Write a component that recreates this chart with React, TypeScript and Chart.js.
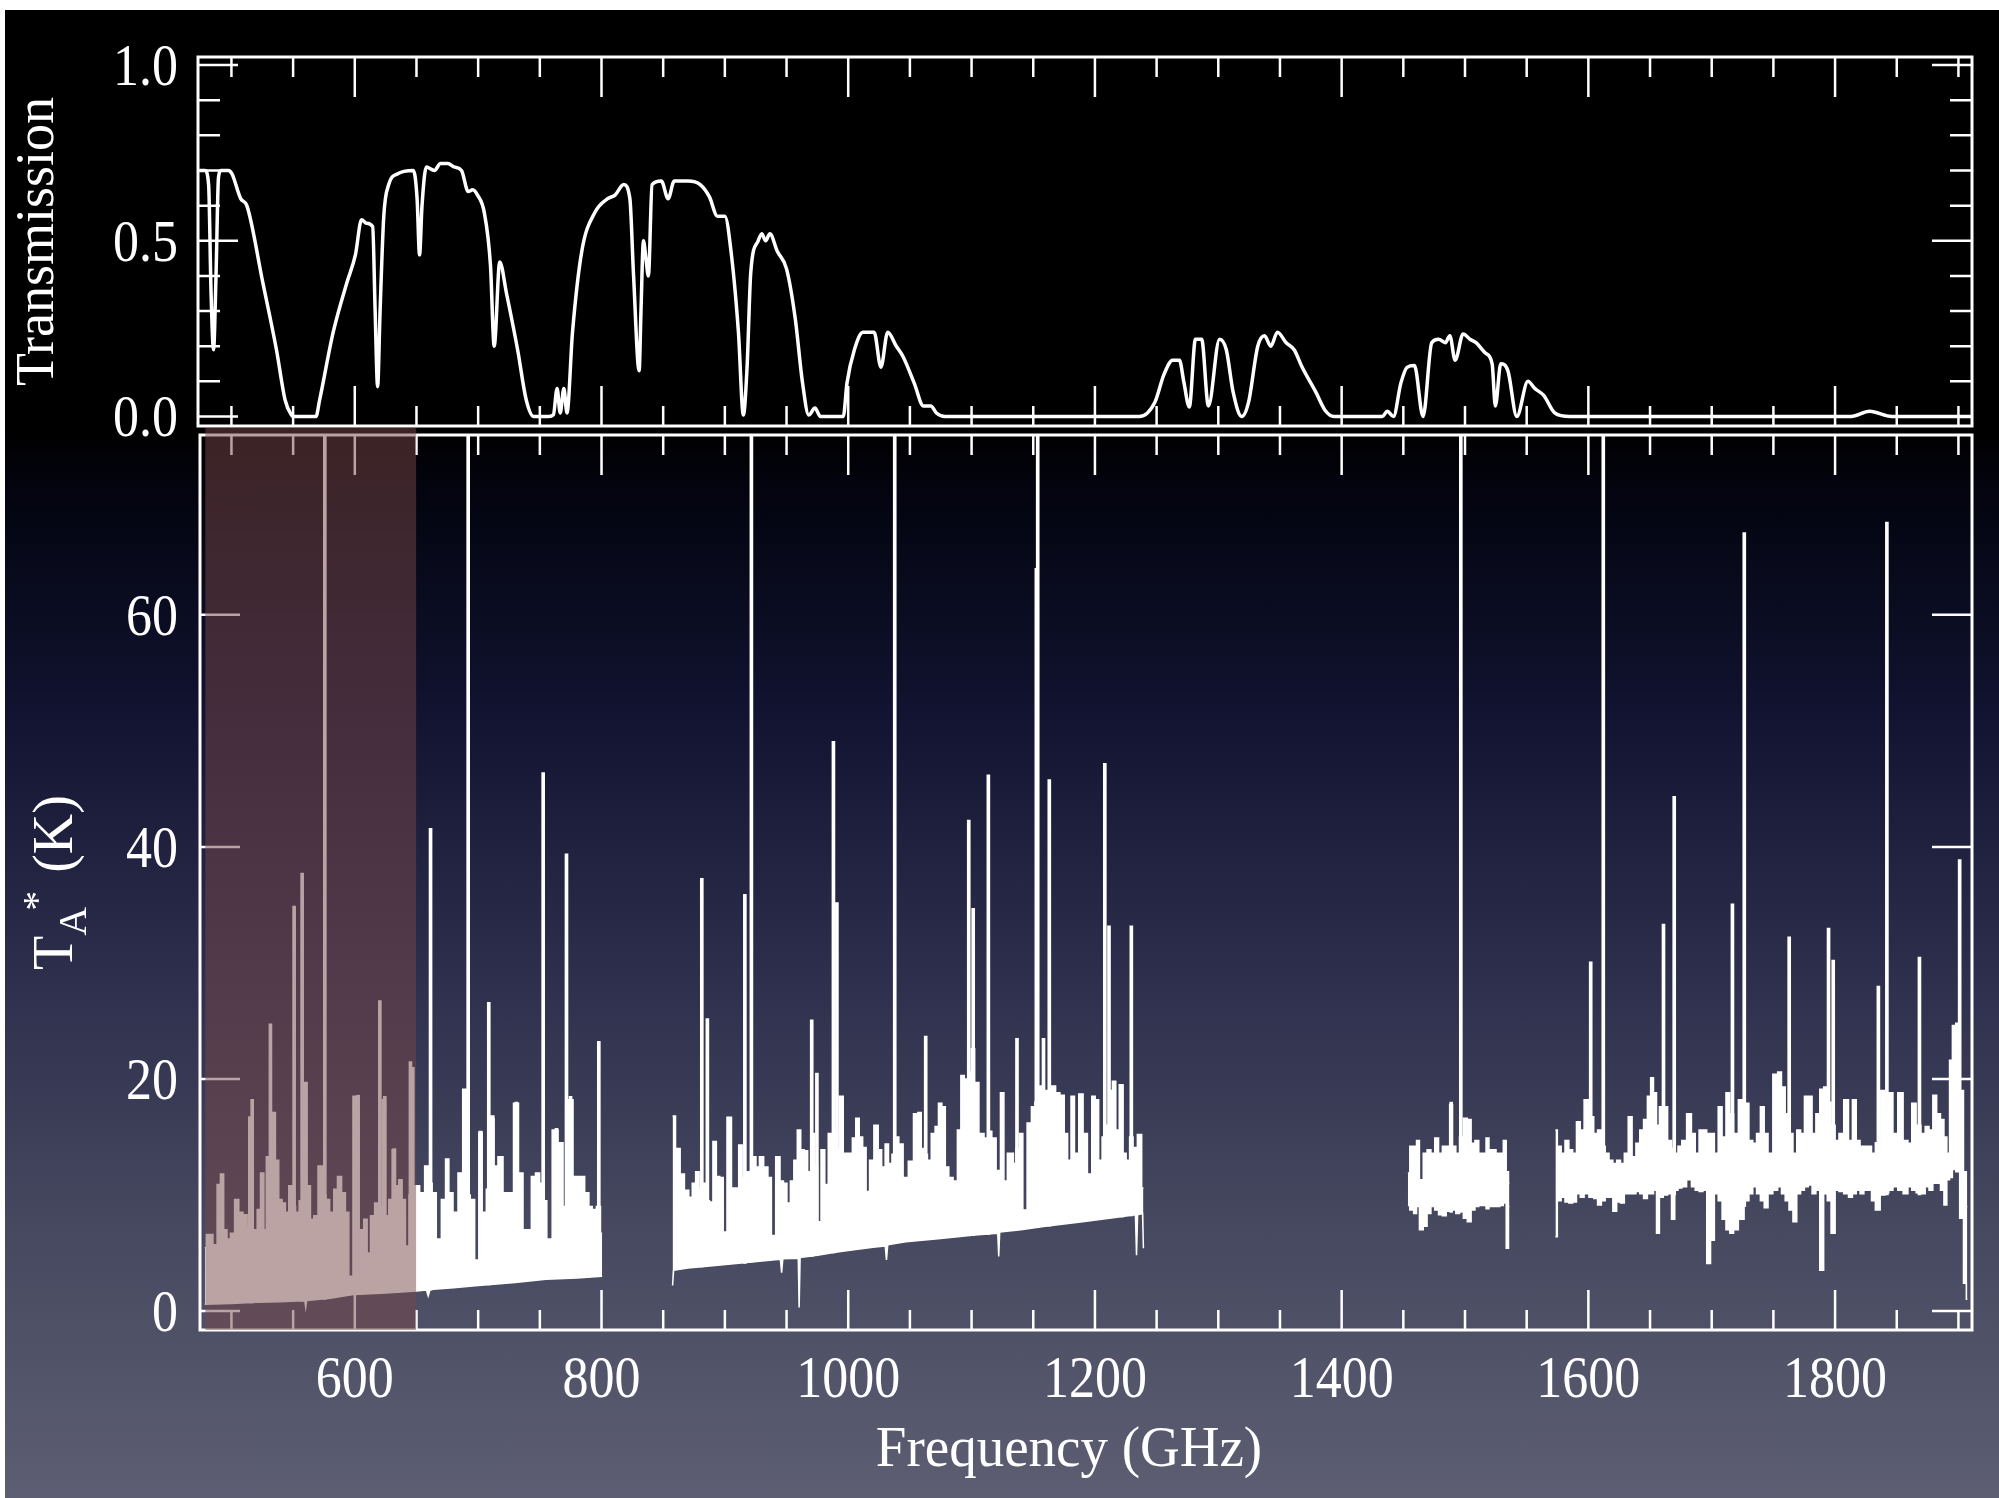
import React, { useEffect, useRef } from "react";
import { Chart, registerables } from "chart.js";

Chart.register(...registerables);

const SERIF = '"Liberation Serif", "Times New Roman", serif';

// ---------------- axes / ticks ----------------
const xMajorTicks = [600, 800, 1000, 1200, 1400, 1600, 1800];
const xMinorTicks = [500, 550, 600, 650, 700, 750, 800, 850, 900, 950, 1000, 1050, 1100, 1150, 1200, 1250, 1300, 1350, 1400, 1450, 1500, 1550, 1600, 1650, 1700, 1750, 1800, 1850, 1900];
const transMajorTicks = [0, 0.5, 1.0];
const transMinorTicks = [0.1, 0.2, 0.3, 0.4, 0.6, 0.7, 0.8, 0.9];
const tempTicks = [0, 20, 40, 60];
const shadedBand = [478.8, 649.7];

// ---------------- atmospheric transmission [GHz, transmission] ----------------
const transmission = [
  [474, 0.70], [478.5, 0.70], [481.5, 0.66], [483.5, 0.35], [485.5, 0.19], [487.5, 0.40], [489.5, 0.68], [491.5, 0.70],
  [497.5, 0.70], [500.5, 0.69], [507.5, 0.62], [512.5, 0.60], [525.5, 0.38], [536.5, 0.19], [543.5, 0.047], [548.5, 0.005],
  [550.5, 0.0], [568.5, 0.0], [571.5, 0.047], [582.5, 0.24], [593.5, 0.38], [600.5, 0.46], [605.5, 0.56], [609.5, 0.55],
  [614.5, 0.54], [616.5, 0.30], [618.5, 0.085], [620.5, 0.30], [623.5, 0.57], [627.5, 0.66], [634.5, 0.69], [647.5, 0.70],
  [650.5, 0.62], [652.5, 0.46], [654.5, 0.60], [658, 0.71], [664.5, 0.70], [669.5, 0.72], [675.5, 0.72], [680.5, 0.71],
  [686.5, 0.70], [692, 0.64], [695.5, 0.645], [699.5, 0.63], [705, 0.58], [710, 0.43], [713, 0.20], [717.5, 0.44],
  [723, 0.35], [732, 0.19], [739, 0.047], [745, 0.0], [757, 0.0], [761, 0.005], [764, 0.08], [766.5, 0.01],
  [769.5, 0.08], [772, 0.01], [776.5, 0.24], [784, 0.47], [794.5, 0.58], [805, 0.62], [811, 0.63], [818, 0.66],
  [823, 0.62], [826, 0.40], [830.5, 0.13], [832, 0.30], [834, 0.50], [836, 0.45], [838, 0.40], [841, 0.66],
  [848.5, 0.67], [854, 0.62], [859, 0.67], [870, 0.67], [880, 0.66], [887.5, 0.625], [894, 0.57], [900, 0.57],
  [905, 0.47], [911, 0.24], [915, 0.004], [918, 0.14], [921, 0.41], [927, 0.50], [930, 0.52], [933, 0.50],
  [936.5, 0.52], [942.5, 0.47], [950, 0.42], [957, 0.28], [963, 0.095], [968, 0.004], [973, 0.024], [977.5, 0.0],
  [996, 0.0], [999, 0.095], [1005, 0.19], [1012, 0.24], [1021, 0.24], [1026.5, 0.14], [1032, 0.24], [1039, 0.20],
  [1044.5, 0.17], [1053.5, 0.095], [1061, 0.03], [1067, 0.03], [1071.5, 0.01], [1078.5, 0.0], [1236, 0.0], [1248.5, 0.04],
  [1256, 0.12], [1263, 0.16], [1268.5, 0.16], [1272, 0.10], [1276.5, 0.027], [1281.5, 0.22], [1286.5, 0.22], [1292, 0.03],
  [1301, 0.22], [1306.5, 0.19], [1312, 0.07], [1319, 0.0], [1324.5, 0.04], [1332, 0.20], [1337.5, 0.23], [1342.5, 0.20],
  [1348, 0.24], [1355, 0.21], [1361.5, 0.19], [1368, 0.14], [1379, 0.07], [1386.5, 0.018], [1394, 0.0], [1433, 0.0],
  [1437, 0.015], [1442, 0.0], [1448, 0.095], [1453, 0.14], [1459, 0.145], [1466, 0.0], [1473, 0.21], [1478.6, 0.22],
  [1484, 0.21], [1487.7, 0.23], [1492, 0.16], [1498.5, 0.235], [1504, 0.22], [1509, 0.21], [1516.7, 0.18], [1522, 0.15],
  [1524.6, 0.03], [1529, 0.15], [1534.8, 0.13], [1542, 0.0], [1551, 0.10], [1556.5, 0.08], [1563.8, 0.06], [1572.8, 0.01],
  [1585, 0.0], [1813, 0.0], [1828, 0.015], [1846, 0.0], [1911, 0.0],
];

// ---------------- spectrum bands [GHz, T_A* (K)] ----------------
const band1Upper = [
  [478.4, 5.45], [481, 6.6], [483, 6.6], [487, 5.7], [489.7, 10.9], [492.4, 11.8], [495, 7.0], [497.8, 6.2], [500.5, 6.7],
  [504.6, 9.6], [507.3, 8.5], [511.4, 8.3], [514, 7.3], [519.5, 7.0], [522.2, 8.75], [524.9, 11.9], [527.6, 7.0], [528.9, 13.3],
  [531.6, 9.0], [534.3, 17.1], [537, 13.0], [539.7, 9.6], [542.4, 9.3], [545.1, 8.5], [547.8, 10.8], [550.8, 9.0], [553.2, 8.5],
  [556.5, 9.5], [560, 19.7], [562.7, 10.8], [565.4, 7.9], [568.1, 8.2], [572.2, 12.5], [575.7, 10.0], [577.6, 9.6], [581.6, 8.5],
  [584.3, 10.5], [587.6, 11.6], [591, 10.2], [593.8, 8.5], [596.5, 3.0], [600.5, 18.5], [603.2, 6.7], [605.9, 7.0], [608.6, 7.9],
  [611.4, 5.0], [614, 8.2], [618.1, 9.3], [620.8, 9.0], [623.5, 18.2], [626.2, 8.2], [628.9, 9.6], [631.6, 13.9], [634.3, 10.8],
  [637, 11.3], [639.7, 9.6], [642.4, 5.6], [645.5, 10.0], [650.5, 10.8], [654.6, 10.2], [658.6, 12.5], [661.4, 11.0], [664, 10.2],
  [668.1, 6.2], [672.2, 9.6], [674.9, 13.1], [677.6, 10.2], [681.6, 8.5], [685.7, 11.9], [689.2, 19.1], [692, 10.0], [695.1, 9.6],
  [699.2, 4.4], [701.9, 15.4], [704.6, 8.5], [708.6, 10.5], [711.4, 16.8], [714, 12.5], [718.1, 13.3], [722.2, 10.2], [726.2, 10.2],
  [731.1, 17.9], [734.3, 11.9], [738.4, 7.0], [741.1, 7.0], [745.1, 11.6], [747.8, 11.9], [751.9, 11.0], [754, 9.5], [757.3, 6.2],
  [762.7, 15.6], [766.8, 14.5], [770.8, 9.0], [774.9, 18.2], [778.9, 11.6], [784.3, 11.6], [788.4, 10.2], [791.1, 9.0], [793.8, 8.75],
  [797.8, 9.0], [800.5, 6.7],
];
const band1Lower = [
  [478.4, 0.57], [500, 0.65], [520, 0.75], [540, 0.8], [552, 0.86], [559.5, 0.85], [560.2, 0.3], [561, 0.9], [580, 1.1],
  [600, 1.43], [625, 1.55], [650, 1.72], [658, 1.8], [659.5, 1.3], [661, 1.85], [680, 2.0], [700, 2.2], [730, 2.45],
  [755, 2.73], [780, 2.85], [800.5, 3.0],
];
const band2Upper = [
  [857.6, 16.8], [862.4, 14.0], [865.1, 11.8], [869.3, 10.4], [872.2, 9.8], [874.9, 11.0], [877.7, 12.0], [880.5, 10.5], [883.3, 11.0],
  [886.1, 9.5], [888.9, 9.4], [891.7, 14.6], [894.5, 11.6], [897.3, 11.5], [900, 6.8], [903.4, 16.7], [907.3, 10.6], [909.8, 10.6],
  [912.6, 14.3], [915.4, 11.5], [919.6, 12.0], [923.8, 13.3], [926.6, 12.4], [929.4, 13.3], [933.5, 12.4], [936.3, 11.5], [939.1, 6.5],
  [943.3, 13.3], [946.1, 11.2], [948.9, 11.0], [951.7, 9.3], [954.5, 11.2], [957.3, 13.0], [960.1, 15.6], [962.9, 13.9], [965.7, 13.8],
  [968.5, 12.0], [971.2, 15.3], [974, 12.5], [976.3, 7.7], [979.6, 13.9], [982.4, 10.9], [985.2, 15.3], [988, 15.3], [991, 14.0],
  [994.1, 18.5], [997.8, 13.6], [1002, 13.6], [1004.7, 14.9], [1007.5, 16.6], [1010.3, 15.0], [1013.1, 14.1], [1015.9, 10.3], [1018.7, 13.0],
  [1022.9, 16.0], [1025.7, 13.9], [1028.5, 12.4], [1031.3, 14.4], [1034, 12.7], [1036.9, 13.5], [1039.6, 15.0], [1042.4, 14.4], [1046.6, 11.5],
  [1050.8, 12.9], [1055, 17.0], [1057.8, 17.1], [1060.6, 14.0], [1062.8, 13.5], [1065.6, 13.0], [1069, 15.3], [1071.8, 15.9], [1074.5, 17.9],
  [1077.3, 17.6], [1080.1, 12.4], [1082.9, 11.5], [1087.1, 11.2], [1089.9, 15.6], [1092.7, 20.3], [1095.5, 20.0], [1098.3, 20.6], [1101.1, 22.6],
  [1103.9, 19.7], [1108, 15.3], [1112.2, 14.9], [1115, 15.5], [1117.8, 14.9], [1122, 12.1], [1124.8, 18.8], [1127.6, 11.2], [1130.4, 13.6],
  [1133.2, 13.6], [1134.6, 12.7], [1137.4, 14.0], [1140.2, 15.3], [1142.9, 8.7], [1147.1, 16.2], [1149.9, 17.6], [1152.7, 18.0], [1155.5, 19.4],
  [1158.3, 18.5], [1161.1, 19.0], [1163.3, 18.0], [1166.7, 19.4], [1169.5, 18.8], [1173.7, 18.6], [1176.5, 15.3], [1179.2, 13.0], [1182, 18.5],
  [1184.8, 13.6], [1189, 18.7], [1191.8, 15.3], [1196, 11.8], [1198.8, 18.5], [1201.6, 18.2], [1204.4, 13.0], [1207.2, 15.0], [1210, 16.0],
  [1212.8, 19.0], [1215.5, 19.8], [1218.3, 15.6], [1221.1, 19.5], [1223.9, 13.6], [1226.7, 13.0], [1229.5, 15.0], [1232.3, 14.1], [1236.5, 15.2],
  [1239.3, 10.6],
];
const band2Lower = [
  [857.6, 2.2], [858.4, 3.5], [870, 3.7], [890, 3.9], [907, 4.07], [930, 4.3], [945, 4.45], [946, 3.3], [947, 4.5],
  [959.5, 4.55], [960.2, 0.3], [961, 4.6], [975, 4.8], [990.8, 5.08], [1020, 5.5], [1030, 5.6], [1031, 4.4], [1032, 5.7],
  [1046.6, 5.96], [1075, 6.25], [1102.5, 6.54], [1121.2, 6.7], [1122, 4.7], [1122.8, 6.8], [1140, 7.0], [1158.3, 7.27], [1190, 7.7],
  [1222.5, 8.15], [1232.8, 8.3], [1233.7, 4.8], [1234.6, 8.3], [1238.6, 8.4], [1239.3, 5.4],
];
const band3Upper = [
  [1453.7, 11.9], [1456.8, 14.2], [1459.9, 14.2], [1461.5, 14.7], [1464.6, 11.3], [1467.7, 13.6], [1470.8, 13.9], [1473.9, 13.6],
  [1477, 14.9], [1480.1, 13.6], [1483.2, 14.2], [1486.3, 14.2], [1488.8, 17.8], [1491, 14.2], [1494.1, 13.6], [1497, 15.0],
  [1500.3, 16.6], [1503.4, 16.5], [1506.5, 14.45], [1509.6, 14.7], [1512.7, 13.6], [1515.8, 13.6], [1518.3, 14.9], [1520.5, 13.9],
  [1523.6, 13.9], [1526.7, 13.6], [1529.8, 13.6], [1532.3, 14.7], [1534.5, 12.0], [1536, 11.0],
];
const band3Lower = [
  [1453.7, 9.1], [1456.8, 8.7], [1459.9, 8.4], [1461.5, 9.0], [1464.6, 7.0], [1467.7, 7.3], [1470.8, 8.4], [1473.9, 9.0],
  [1477, 8.7], [1480.1, 8.3], [1483.2, 8.2], [1486.3, 8.6], [1488.8, 9.0], [1491, 8.7], [1494.1, 8.4], [1497, 8.6],
  [1500.3, 8.0], [1503.4, 7.7], [1506.5, 8.7], [1509.6, 9.0], [1512.7, 9.1], [1515.8, 9.1], [1518.3, 8.8], [1520.5, 9.0],
  [1523.6, 9.0], [1526.7, 9.0], [1529.8, 9.1], [1532.3, 9.3], [1534.5, 5.4], [1536, 9.0],
];
const band4Upper = [
  [1573.3, 15.6], [1576.4, 14.2], [1579.5, 13.6], [1582.6, 14.7], [1585.7, 13.9], [1588.8, 13.6], [1591.9, 16.3], [1595, 15.6],
  [1598.1, 18.2], [1602.8, 16.75], [1605.9, 15.3], [1609, 15.6], [1612.1, 14.2], [1615.2, 13.6], [1618.3, 13.0], [1621.4, 12.7],
  [1624.5, 13.0], [1627.6, 12.7], [1630.7, 13.6], [1633.9, 16.75], [1637, 13.3], [1640.1, 14.45], [1643.2, 15.6], [1646.3, 16.5],
  [1649.4, 18.5], [1651.6, 20.1], [1654, 18.8], [1656.5, 16.0], [1658.7, 17.6], [1662.7, 17.6], [1665.8, 14.7], [1669, 14.0],
  [1671.1, 13.6], [1674.2, 14.2], [1677.3, 14.7], [1682, 17.0], [1685.1, 15.3], [1688.2, 13.6], [1691.3, 15.6], [1694.4, 15.6],
  [1697.5, 15.3], [1700.6, 15.3], [1703.7, 13.6], [1706.8, 17.6], [1710, 15.0], [1713.1, 18.8], [1716.2, 17.0], [1719.3, 15.3],
  [1723.9, 18.2], [1728.6, 17.9], [1731.7, 14.7], [1734.8, 14.45], [1737.9, 15.3], [1741, 17.6], [1744.1, 15.3], [1747.2, 13.6],
  [1751.9, 20.4], [1755, 20.6], [1758.1, 19.3], [1761, 17.0], [1764.3, 15.3], [1767.4, 13.6], [1770.5, 15.6], [1773.6, 15.3],
  [1776.7, 18.5], [1779.8, 18.5], [1782.9, 15.3], [1786, 17.0], [1789.2, 19.1], [1792.3, 19.3], [1795, 18.0], [1798.5, 16.0],
  [1801.6, 14.7], [1804.7, 15.3], [1809.3, 18.2], [1812.5, 14.7], [1815.6, 18.2], [1818.7, 14.7], [1821.8, 14.2], [1824.9, 14.2],
  [1828, 14.2], [1831.1, 13.6], [1834.2, 14.5], [1838.9, 19.0], [1842, 17.0], [1845, 18.8], [1848.8, 15.3], [1852.8, 18.8],
  [1857.5, 14.7], [1860.6, 14.45], [1863.7, 17.9], [1867.7, 16.0], [1871.5, 15.3], [1874.6, 15.9], [1877.7, 15.6], [1880.8, 18.6],
  [1883.9, 17.0], [1887, 16.5], [1889.5, 15.0], [1891.7, 13.6], [1893.9, 21.6], [1896.3, 24.6], [1899.4, 24.8], [1902.6, 19.0],
  [1905.6, 12.0], [1907.2, 9.0],
];
const band4Lower = [
  [1573.3, 6.4], [1576.4, 9.5], [1579.5, 9.8], [1582.6, 9.4], [1585.7, 9.3], [1588.8, 9.4], [1591.9, 10.1], [1595, 9.8],
  [1598.1, 10.1], [1602.8, 9.8], [1605.9, 9.7], [1609, 9.14], [1612.1, 9.5], [1615.2, 9.8], [1618.3, 9.8], [1621.4, 8.6],
  [1624.5, 9.4], [1627.6, 9.3], [1630.7, 10.1], [1633.9, 10.1], [1637, 10.1], [1640.1, 10.3], [1643.2, 10.1], [1646.3, 9.7],
  [1649.4, 10.1], [1651.6, 10.1], [1654, 10.4], [1656.5, 6.7], [1658.7, 9.8], [1662.7, 10.0], [1665.8, 10.1], [1669, 7.9],
  [1671.1, 10.4], [1674.2, 10.6], [1677.3, 10.7], [1682, 11.3], [1685.1, 10.7], [1688.2, 10.4], [1691.3, 10.3], [1694.4, 10.4],
  [1697.5, 4.1], [1700.6, 6.1], [1703.7, 10.1], [1706.8, 9.5], [1710, 7.9], [1713.1, 7.0], [1716.2, 6.7], [1719.3, 7.0],
  [1723.9, 7.9], [1728.6, 9.5], [1731.7, 10.1], [1734.8, 10.7], [1737.9, 10.1], [1741, 9.5], [1744.1, 8.9], [1747.2, 10.1],
  [1751.9, 10.4], [1755, 10.7], [1758.1, 10.1], [1761, 9.5], [1764.3, 8.7], [1767.4, 7.7], [1770.5, 10.1], [1773.6, 10.4],
  [1776.7, 10.7], [1779.8, 10.86], [1782.9, 10.1], [1786, 10.4], [1789.2, 3.5], [1792.3, 10.1], [1795, 9.5], [1798.5, 6.7],
  [1801.6, 10.4], [1804.7, 10.3], [1809.3, 10.1], [1812.5, 9.8], [1815.6, 10.1], [1818.7, 10.4], [1821.8, 10.1], [1824.9, 10.4],
  [1828, 10.4], [1831.1, 9.5], [1834.2, 8.7], [1838.9, 10.0], [1842, 10.2], [1845, 10.4], [1848.8, 10.7], [1852.8, 10.4],
  [1857.5, 10.1], [1860.6, 10.7], [1863.7, 10.4], [1867.7, 10.2], [1871.5, 10.1], [1874.6, 10.7], [1877.7, 10.4], [1880.8, 11.0],
  [1883.9, 11.0], [1887, 10.4], [1889.5, 9.14], [1891.7, 11.3], [1893.9, 11.5], [1896.3, 12.2], [1899.4, 12.0], [1902.6, 8.0],
  [1905.6, 2.4], [1907.2, 1.0],
];

// ---------------- emission lines [GHz, peak T_A*, foot T_A*] ----------------
const lines = [
  [514.9, 16.75, 0.7], [516.8, 18.25, 0.7], [531.6, 24.75, 0.8], [550.8, 34.9, 0.85], [557.3, 37.75, 0.85], [575.7, 80, 1.0],
  [602.7, 18.6, 1.45], [620.3, 26.75, 1.5], [624.3, 18.5, 1.55], [632, 14, 1.6], [645.1, 21.5, 1.7], [647, 21, 1.7],
  [661.4, 41.6, 1.8], [689.2, 17.75, 2.1], [691.9, 80, 2.1], [701.9, 15.5, 2.2], [708.6, 26.6, 2.25], [712, 16.6, 2.3],
  [731, 18, 2.45], [752.7, 46.4, 2.7], [763.5, 15.75, 2.8], [771.6, 39.4, 2.8], [774.9, 18.5, 2.8], [797.8, 23.25, 3.0],
  [881.3, 37.3, 3.8], [885.8, 25.2, 3.9], [916.2, 35.9, 4.1], [921.5, 80, 4.2], [970.4, 25.1, 4.7], [974.6, 20.5, 4.8],
  [988, 49.1, 5.0], [990.8, 35.2, 5.1], [1037.7, 80, 5.9], [1062.8, 23.7, 6.2], [1097.7, 42.3, 6.5], [1101.3, 34.7, 6.5],
  [1113.6, 46.2, 6.6], [1136.8, 23.5, 7.0], [1152.5, 64, 7.2], [1153.6, 80, 7.2], [1158.3, 23.5, 7.3], [1163, 45.8, 7.3],
  [1208, 47.2, 8.0], [1211.4, 33.2, 8.0], [1221.9, 19.5, 8.1], [1229.5, 33.2, 8.2],
  [1488.8, 18, 8.5], [1496.6, 80, 8.5],
  [1601.9, 30.1, 10], [1612.1, 80, 9.5], [1660.9, 33.35, 10], [1669.6, 44.35, 10], [1716.8, 35.1, 7], [1726.4, 67.1, 9],
  [1762.8, 32.25, 10], [1794.7, 33, 10], [1798.5, 30.25, 8], [1835.1, 28, 9], [1842, 68, 10], [1868.4, 30.5, 10], [1901, 38.9, 12],
];

// [lower edge, upper edge, lower edge drawn stepped]
const bands: [number[][], number[][], boolean][] = [
  [band1Lower, band1Upper, false],
  [band2Lower, band2Upper, false],
  [band3Lower, band3Upper, true],
  [band4Lower, band4Upper, true],
];

const toXY = (arr: number[][]) => arr.map(([x, y]) => ({ x, y }));

// tall, slightly condensed serif labels like the original figure
const LABEL_SIZE = 52;
const LABEL_STRETCH = 1.15;
function drawLabel(ctx: CanvasRenderingContext2D, text: string, x: number, y: number, align: CanvasTextAlign) {
  ctx.save();
  ctx.translate(x, y);
  ctx.scale(1, LABEL_STRETCH);
  ctx.font = `${LABEL_SIZE}px ${SERIF}`;
  ctx.fillStyle = "#ffffff";
  ctx.textAlign = align;
  ctx.textBaseline = "alphabetic";
  ctx.fillText(text, 0, LABEL_SIZE * 0.33);
  ctx.restore();
}

function decorPlugin(cfg: {
  yMajor: number[];
  yMinor: number[];
  yLabels: number[];
  yFormat: (v: number) => string;
  yLabelGap: number;
  xLabels: boolean;
  extra?: (chart: any) => void;
}) {
  return {
    id: "decor",
    afterDatasetsDraw(chart: any) {
      const { ctx, chartArea: a, scales } = chart;
      const xs = scales.x;
      const ys = scales.y;
      ctx.save();
      ctx.strokeStyle = "#ffffff";
      ctx.lineWidth = 2.5;
      ctx.beginPath();
      for (const v of xMinorTicks) {
        const px = xs.getPixelForValue(v);
        if (px < a.left + 2 || px > a.right - 2) continue;
        const len = xMajorTicks.includes(v) ? 40 : 20;
        ctx.moveTo(px, a.top);
        ctx.lineTo(px, a.top + len);
        ctx.moveTo(px, a.bottom);
        ctx.lineTo(px, a.bottom - len);
      }
      for (const v of [...cfg.yMajor, ...cfg.yMinor]) {
        const py = ys.getPixelForValue(v);
        const len = cfg.yMajor.includes(v) ? 40 : 22;
        ctx.moveTo(a.left, py);
        ctx.lineTo(a.left + len, py);
        ctx.moveTo(a.right, py);
        ctx.lineTo(a.right - len, py);
      }
      ctx.stroke();
      ctx.lineWidth = 3;
      ctx.strokeRect(a.left, a.top, a.right - a.left, a.bottom - a.top);
      ctx.restore();

      for (const v of cfg.yLabels) {
        drawLabel(ctx, cfg.yFormat(v), a.left - cfg.yLabelGap, ys.getPixelForValue(v), "right");
      }
      if (cfg.xLabels) {
        for (const v of xMajorTicks) {
          drawLabel(ctx, String(v), xs.getPixelForValue(v), a.bottom + 47, "center");
        }
      }
      if (cfg.extra) cfg.extra(chart);
    },
  };
}

export default function App() {
  const topRef = useRef<HTMLCanvasElement>(null);
  const botRef = useRef<HTMLCanvasElement>(null);

  useEffect(() => {
    if (!topRef.current || !botRef.current) return;
    Chart.defaults.font.family = SERIF;
    Chart.defaults.color = "#ffffff";

    const top = new Chart(topRef.current, {
      type: "line",
      data: {
        datasets: [
          {
            data: toXY(transmission),
            borderColor: "#ffffff",
            borderWidth: 3.5,
            pointRadius: 0,
            fill: false,
            cubicInterpolationMode: "monotone",
          } as any,
        ],
      },
      options: {
        animation: false,
        responsive: false,
        devicePixelRatio: 1,
        events: [],
        layout: { padding: { left: 0, right: 27, top: 57, bottom: 14 } },
        plugins: { legend: { display: false }, tooltip: { enabled: false } },
        scales: {
          x: { type: "linear", display: false, min: 472.9, max: 1911, offset: false },
          y: {
            type: "linear",
            min: -0.027,
            max: 1.023,
            afterBuildTicks: (s: any) => {
              s.ticks = transMajorTicks.map((value) => ({ value }));
            },
            afterFit: (s: any) => {
              s.width = 198;
              s.paddingTop = 0;
              s.paddingBottom = 0;
            },
            grid: { display: false, drawTicks: false },
            border: { display: false },
            ticks: { display: false },
            title: {
              display: true,
              text: "Transmission",
              color: "#ffffff",
              font: { family: SERIF, size: 54 },
              padding: { top: 6, bottom: 0 },
            },
          },
        },
      } as any,
      plugins: [
        decorPlugin({
          yMajor: transMajorTicks,
          yMinor: transMinorTicks,
          yLabels: transMajorTicks,
          yFormat: (v) => v.toFixed(1),
          yLabelGap: 20,
          xLabels: false,
        }),
      ],
    });

    const datasets: any[] = [];
    bands.forEach(([lower, upper, steppedLower]) => {
      datasets.push({
        data: toXY(lower),
        borderColor: "#ffffff",
        borderWidth: 1.5,
        pointRadius: 0,
        stepped: steppedLower ? "middle" : false,
        fill: false,
      });
      datasets.push({
        data: toXY(upper),
        borderColor: "#ffffff",
        backgroundColor: "#ffffff",
        borderWidth: 1.5,
        pointRadius: 0,
        stepped: "middle",
        fill: "-1",
      });
    });
    datasets.push({
      type: "bar",
      data: lines.map(([x, top, base]) => ({ x, y: [base, top] })),
      backgroundColor: "#ffffff",
      borderWidth: 0,
      barThickness: 3,
      grouped: false,
    });

    const bottom = new Chart(botRef.current, {
      type: "line",
      data: { datasets },
      options: {
        animation: false,
        responsive: false,
        devicePixelRatio: 1,
        events: [],
        layout: { padding: { left: 0, right: 27, top: 15, bottom: 0 } },
        plugins: { legend: { display: false }, tooltip: { enabled: false } },
        scales: {
          x: {
            type: "linear",
            min: 474.5,
            max: 1911,
            offset: false,
            afterBuildTicks: (s: any) => {
              s.ticks = xMajorTicks.map((value) => ({ value }));
            },
            afterFit: (s: any) => {
              s.height = 168;
              s.paddingLeft = 0;
              s.paddingRight = 0;
            },
            grid: { display: false, drawTicks: false },
            border: { display: false },
            ticks: { display: false },
          },
          y: {
            type: "linear",
            min: -1.64,
            max: 75.5,
            afterBuildTicks: (s: any) => {
              s.ticks = tempTicks.map((value) => ({ value }));
            },
            afterFit: (s: any) => {
              s.width = 200;
              s.paddingTop = 0;
              s.paddingBottom = 0;
            },
            grid: { display: false, drawTicks: false },
            border: { display: false },
            ticks: { display: false },
          },
        },
      } as any,
      plugins: [
        decorPlugin({
          yMajor: tempTicks,
          yMinor: [],
          yLabels: tempTicks,
          yFormat: (v) => String(v),
          yLabelGap: 22,
          xLabels: true,
          extra: (chart: any) => {
            const { ctx, chartArea: a, scales } = chart;
            ctx.save();
            ctx.fillStyle = "#ffffff";
            ctx.textAlign = "center";
            ctx.textBaseline = "middle";
            ctx.translate(1069, 1031);
            ctx.scale(1, 1.05);
            ctx.font = `55px ${SERIF}`;
            ctx.fillText("Frequency (GHz)", 0, 0);
            ctx.restore();

            ctx.save();
            ctx.fillStyle = "#ffffff";
            ctx.textBaseline = "alphabetic";
            ctx.textAlign = "left";
            ctx.translate(72, (a.top + a.bottom) / 2);
            ctx.rotate(-Math.PI / 2);
            const big = `56px ${SERIF}`;
            const small = `40px ${SERIF}`;
            ctx.font = big;
            const wT = ctx.measureText("T").width;
            const wK = ctx.measureText(" (K)").width;
            ctx.font = small;
            const wA = ctx.measureText("A").width;
            const wS = ctx.measureText("*").width;
            let cx = -(wT + wA + wS + wK) / 2;
            ctx.font = big;
            ctx.fillText("T", cx, 0);
            cx += wT;
            ctx.font = small;
            ctx.fillText("A", cx, 14);
            cx += wA;
            ctx.fillText("*", cx - 4, -22);
            cx += wS;
            ctx.font = big;
            ctx.fillText(" (K)", cx, 0);
            ctx.restore();

            const x0 = scales.x.getPixelForValue(shadedBand[0]);
            const x1 = scales.x.getPixelForValue(shadedBand[1]);
            ctx.save();
            ctx.fillStyle = "rgba(120,70,72,0.5)";
            ctx.fillRect(x0, a.top - 7, x1 - x0, a.bottom - a.top + 7);
            ctx.restore();
          },
        }),
      ],
    });

    return () => {
      top.destroy();
      bottom.destroy();
    };
  }, []);

  return (
    <div style={{ position: "absolute", left: 0, top: 0, width: 1999, height: 1498, background: "#ffffff", overflow: "hidden" }}>
      <div
        style={{
          position: "absolute",
          left: 5,
          top: 10,
          width: 1994,
          height: 1488,
          background:
            "linear-gradient(to bottom, #000000 0px, #000000 420px, #03040f 480px, #111330 700px, #2b2d4b 950px, #45475f 1200px, #5d5e72 1488px)",
        }}
      />
      <canvas ref={topRef} width={1999} height={440} style={{ position: "absolute", left: 0, top: 0, width: 1999, height: 440 }} />
      <canvas ref={botRef} width={1999} height={1078} style={{ position: "absolute", left: 0, top: 420, width: 1999, height: 1078 }} />
    </div>
  );
}
